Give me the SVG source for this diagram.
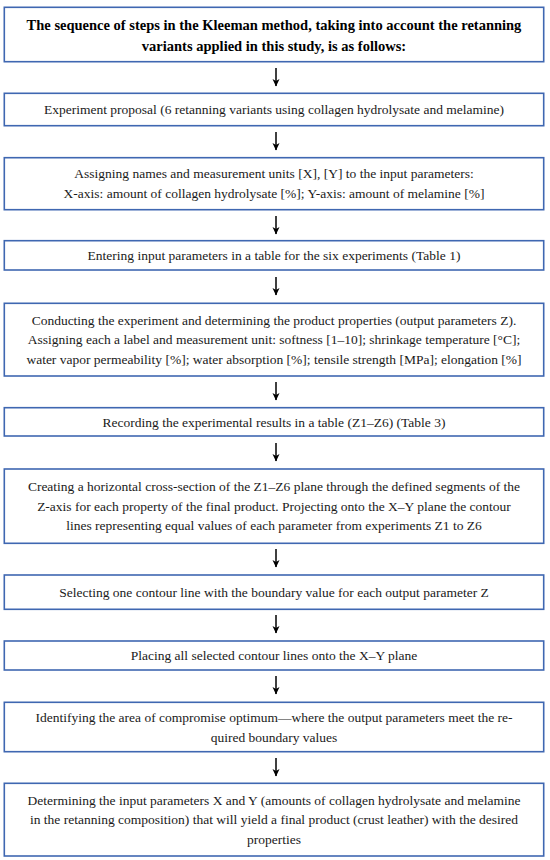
<svg xmlns="http://www.w3.org/2000/svg" width="550" height="860" viewBox="0 0 550 860">
<defs>
<style>
.box{fill:#ffffff;stroke:#3f67b1;stroke-width:1.6}
.t{font-family:"Liberation Serif","Times New Roman",serif;font-size:13.5px;fill:#1a1a1a;text-anchor:middle}
.h{font-family:"Liberation Serif","Times New Roman",serif;font-size:14.5px;font-weight:bold;fill:#000;text-anchor:middle}
.ar{stroke:#000;stroke-width:1.5;fill:none}
</style>
<marker id="ah" markerWidth="8" markerHeight="8" refX="4" refY="7" orient="0" markerUnits="userSpaceOnUse" viewBox="0 0 8 8">
<path d="M0.5,0 L4,7.5 L7.5,0 L4,2 Z" fill="#000"/>
</marker>
</defs>
<rect width="550" height="860" fill="#ffffff"/>
<g id="connectors">
<line class="ar" x1="276" y1="68" x2="276" y2="86" marker-end="url(#ah)"/>
<line class="ar" x1="276" y1="132" x2="276" y2="150" marker-end="url(#ah)"/>
<line class="ar" x1="276" y1="216" x2="276" y2="234" marker-end="url(#ah)"/>
<line class="ar" x1="276" y1="277" x2="276" y2="295" marker-end="url(#ah)"/>
<line class="ar" x1="276" y1="382" x2="276" y2="400" marker-end="url(#ah)"/>
<line class="ar" x1="276" y1="443" x2="276" y2="461" marker-end="url(#ah)"/>
<line class="ar" x1="276" y1="549" x2="276" y2="567" marker-end="url(#ah)"/>
<line class="ar" x1="276" y1="615" x2="276" y2="633" marker-end="url(#ah)"/>
<line class="ar" x1="276" y1="676" x2="276" y2="694" marker-end="url(#ah)"/>
<line class="ar" x1="276" y1="758" x2="276" y2="776" marker-end="url(#ah)"/>
</g>
<g id="n1">
<rect class="box" x="4.3" y="7.3" width="539.4" height="54.4"/>
<text class="h" x="274" y="29.5">The sequence of steps in the Kleeman method, taking into account the retanning</text>
<text class="h" x="274" y="50.5">variants applied in this study, is as follows:</text>
</g>
<g id="n2">
<rect class="box" x="4.3" y="93.3" width="539.4" height="32.4"/>
<text class="t" x="274" y="114">Experiment proposal (6 retanning variants using collagen hydrolysate and melamine)</text>
</g>
<g id="n3">
<rect class="box" x="4.3" y="157.7" width="539.4" height="52"/>
<text class="t" x="274" y="178">Assigning names and measurement units [X], [Y] to the input parameters:</text>
<text class="t" x="274" y="198">X-axis: amount of collagen hydrolysate [%]; Y-axis: amount of melamine [%]</text>
</g>
<g id="n4">
<rect class="box" x="4.3" y="240.7" width="539.4" height="29.3"/>
<text class="t" x="274" y="260">Entering input parameters in a table for the six experiments (Table 1)</text>
</g>
<g id="n5">
<rect class="box" x="4.3" y="303.3" width="539.4" height="72.7"/>
<text class="t" x="274" y="324.5">Conducting the experiment and determining the product properties (output parameters Z).</text>
<text class="t" x="274" y="344">Assigning each a label and measurement unit: softness [1–10]; shrinkage temperature [°C];</text>
<text class="t" x="274" y="364">water vapor permeability [%]; water absorption [%]; tensile strength [MPa]; elongation [%]</text>
</g>
<g id="n6">
<rect class="box" x="4.3" y="407.7" width="539.4" height="28.3"/>
<text class="t" x="274" y="426.5">Recording the experimental results in a table (Z1–Z6) (Table 3)</text>
</g>
<g id="n7">
<rect class="box" x="4.3" y="469" width="539.4" height="74.3"/>
<text class="t" x="274" y="491">Creating a horizontal cross-section of the Z1–Z6 plane through the defined segments of the</text>
<text class="t" x="274" y="510.5">Z-axis for each property of the final product. Projecting onto the X–Y plane the contour</text>
<text class="t" x="274" y="530">lines representing equal values of each parameter from experiments Z1 to Z6</text>
</g>
<g id="n8">
<rect class="box" x="4.3" y="575" width="539.4" height="34.3"/>
<text class="t" x="274" y="596.5">Selecting one contour line with the boundary value for each output parameter Z</text>
</g>
<g id="n9">
<rect class="box" x="4.3" y="641" width="539.4" height="29"/>
<text class="t" x="274" y="660">Placing all selected contour lines onto the X–Y plane</text>
</g>
<g id="n10">
<rect class="box" x="4.3" y="702.3" width="539.4" height="49.4"/>
<text class="t" x="274" y="721.5">Identifying the area of compromise optimum—where the output parameters meet the re-</text>
<text class="t" x="274" y="741.5">quired boundary values</text>
</g>
<g id="n11">
<rect class="box" x="4.3" y="783.3" width="539.4" height="72.7"/>
<text class="t" x="274" y="804.5">Determining the input parameters X and Y (amounts of collagen hydrolysate and melamine</text>
<text class="t" x="274" y="824">in the retanning composition) that will yield a final product (crust leather) with the desired</text>
<text class="t" x="274" y="844">properties</text>
</g>
</svg>
